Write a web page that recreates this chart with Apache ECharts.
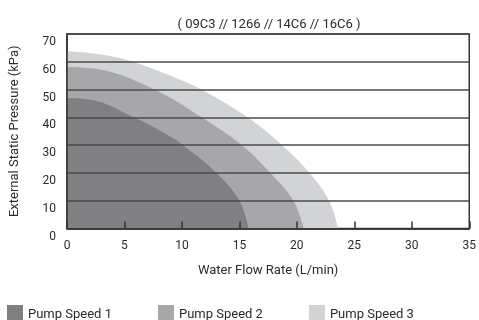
<!DOCTYPE html>
<html>
<head>
<meta charset="utf-8">
<script src="https://cdn.jsdelivr.net/npm/echarts@6/dist/echarts.min.js"></script>
<style>
  html, body { margin: 0; padding: 0; background: #fff; }
  #chart { width: 479px; height: 320px; }
</style>
</head>
<body>
<div id="chart"></div>
<script>
// pump curves: [flow L/min, pressure kPa]
const speed1 = [[0, 47], [2.5, 46], [5.8, 40], [8.2, 35], [10.1, 30], [13.0, 20], [15.0, 10], [15.8, 0]]
const speed2 = [[0, 58.1], [3, 57.1], [7.6, 50], [11.7, 40], [15.2, 30], [17.7, 20], [19.7, 10], [20.6, 0]]
const speed3 = [[0, 63.8], [3, 62.6], [5.7, 60], [10, 53.3], [11.7, 50], [15.7, 40], [18.7, 30], [21.1, 20], [22.8, 10], [23.6, 0]]
const seriesNames = ['Pump Speed 1', 'Pump Speed 2', 'Pump Speed 3']
const seriesColors = ['#808083', '#a7a7aa', '#d2d3d5']

const font = "Roboto, 'Liberation Sans', sans-serif"
const textColor = '#2b2b2b'

function curve (name, data, color, z) {
  return {
    name: name,
    type: 'line',
    data: data,
    z: z,
    smooth: 0.4,
    symbol: 'none',
    lineStyle: { width: 0 },
    itemStyle: { color: color },
    areaStyle: { color: color, opacity: 1 }
  }
}

const chart = echarts.init(document.getElementById('chart'))
chart.setOption({
  animation: false,
  textStyle: { fontFamily: font, color: textColor },
  title: {
    text: '( 09C3 // 1266 // 14C6 // 16C6 )',
    left: 264,
    top: 13,
    textAlign: 'center',
    textStyle: { fontFamily: font, fontSize: 13, fontWeight: 'normal', color: textColor }
  },
  legend: {
    data: seriesNames,
    left: 2,
    top: 300,
    icon: 'rect',
    itemWidth: 16,
    itemHeight: 20,
    itemGap: 46,
    textStyle: { fontFamily: font, fontSize: 13, color: textColor }
  },
  grid: {
    left: 64,
    right: 7,
    top: 34,
    bottom: 91.5,
    show: true,
    borderColor: '#333',
    borderWidth: 1.5
  },
  xAxis: {
    type: 'value',
    min: 0,
    max: 35,
    interval: 5,
    z: 5,
    name: 'Water Flow Rate (L/min)',
    nameLocation: 'middle',
    nameGap: 36,
    nameTextStyle: { fontFamily: font, fontSize: 13, color: textColor },
    axisLine: { show: true, lineStyle: { color: '#333', width: 1.5 } },
    axisTick: { show: true, inside: true, length: 7, lineStyle: { color: '#333', width: 1.5 } },
    axisLabel: { margin: 11, fontSize: 12, color: textColor, fontFamily: font, showMinLabel: true, showMaxLabel: true },
    splitLine: { show: false }
  },
  yAxis: {
    type: 'value',
    min: 0,
    max: 70,
    interval: 10,
    z: 5,
    name: 'External Static Pressure (kPa)',
    nameLocation: 'middle',
    nameGap: 46,
    nameTextStyle: { fontFamily: font, fontSize: 13, color: textColor },
    axisLine: { show: true, lineStyle: { color: '#333', width: 1.5 } },
    axisTick: { show: false },
    axisLabel: { margin: 11, fontSize: 12, color: textColor, fontFamily: font, verticalAlign: 'top', padding: [2, 0, 0, 0] },
    splitLine: { show: true, lineStyle: { color: '#4a4a4a', width: 1.5 } }
  },
  series: [
    curve(seriesNames[2], speed3, seriesColors[2], 1),
    curve(seriesNames[1], speed2, seriesColors[1], 2),
    curve(seriesNames[0], speed1, seriesColors[0], 3)
  ]
})
</script>
</body>
</html>
